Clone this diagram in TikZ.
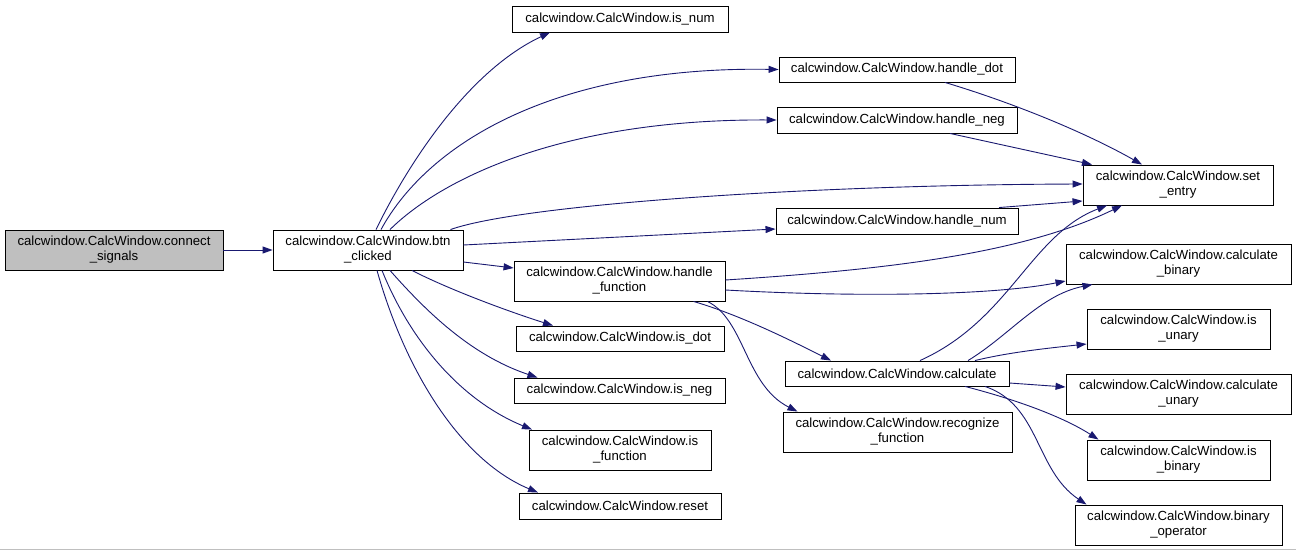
\documentclass[tikz,border=0pt]{standalone}
\usepackage{fontspec}
\setmainfont{Liberation Sans}
\usetikzlibrary{arrows.meta}
\definecolor{edgecol}{HTML}{191970}
\definecolor{graybox}{HTML}{BFBFBF}
\tikzset{
  fbox/.style={draw=black, line width=0.9pt, fill=white, inner sep=0pt, align=center,
    font=\fontsize{13.2}{15}\selectfont},
  edge/.style={draw=edgecol, line width=0.9pt, -{Triangle[length=10pt,width=7pt]}, edgecol}
}
\begin{document}
\begin{tikzpicture}[x=1pt,y=-1pt]
\useasboundingbox[fill=white] (0,0) rectangle (1296,551);
\draw[gray!50, line width=1pt] (0,549.5) -- (1296,549.5);
% nodes
\node[fbox, fill=graybox, minimum width=218pt, minimum height=40pt] (cs) at (114,250) {calcwindow.CalcWindow.connect\\\_signals};
\node[fbox, minimum width=190pt, minimum height=40pt] (btn) at (368,250) {calcwindow.CalcWindow.btn\\\_clicked};
\node[fbox, minimum width=216pt, minimum height=26pt] (isnum) at (620,19) {calcwindow.CalcWindow.is\_num};
\node[fbox, minimum width=236pt, minimum height=25pt] (hdot) at (897,69.5) {calcwindow.CalcWindow.handle\_dot};
\node[fbox, minimum width=240pt, minimum height=26pt] (hneg) at (897,120) {calcwindow.CalcWindow.handle\_neg};
\node[fbox, minimum width=190pt, minimum height=40pt] (setentry) at (1178,185) {calcwindow.CalcWindow.set\\\_entry};
\node[fbox, minimum width=242pt, minimum height=26pt] (hnum) at (897,221) {calcwindow.CalcWindow.handle\_num};
\node[fbox, minimum width=211pt, minimum height=40pt] (hfunc) at (619.5,281) {calcwindow.CalcWindow.handle\\\_function};
\node[fbox, minimum width=225pt, minimum height=40pt] (cbin) at (1178.5,264) {calcwindow.CalcWindow.calculate\\\_binary};
\node[fbox, minimum width=208pt, minimum height=25pt] (isdot) at (620,338.5) {calcwindow.CalcWindow.is\_dot};
\node[fbox, minimum width=224pt, minimum height=25pt] (calc) at (897,373.5) {calcwindow.CalcWindow.calculate};
\node[fbox, minimum width=183pt, minimum height=40pt] (isunary) at (1178.5,329) {calcwindow.CalcWindow.is\\\_unary};
\node[fbox, minimum width=225pt, minimum height=40pt] (cun) at (1178.5,394) {calcwindow.CalcWindow.calculate\\\_unary};
\node[fbox, minimum width=211pt, minimum height=25pt] (isneg) at (619.5,390.5) {calcwindow.CalcWindow.is\_neg};
\node[fbox, minimum width=229pt, minimum height=40pt] (recog) at (897.5,432) {calcwindow.CalcWindow.recognize\\\_function};
\node[fbox, minimum width=182pt, minimum height=40pt] (isfunc) at (620,450) {calcwindow.CalcWindow.is\\\_function};
\node[fbox, minimum width=183pt, minimum height=40pt] (isbin) at (1178.5,460) {calcwindow.CalcWindow.is\\\_binary};
\node[fbox, minimum width=202pt, minimum height=26pt] (reset) at (620,506) {calcwindow.CalcWindow.reset};
\node[fbox, minimum width=207pt, minimum height=40pt] (binop) at (1178.5,525) {calcwindow.CalcWindow.binary\\\_operator};
% edges
\draw[edge] (cs.east) -- (btn.west);
\draw[edge] ([xshift=8pt]btn.north) .. controls (410,160) and (470,70) .. ([xshift=-70pt]isnum.south);
\draw[edge] ([xshift=13pt]btn.north) .. controls (430,140) and (560,66) .. (hdot.west);
\draw[edge] ([xshift=22pt]btn.north) .. controls (440,180) and (560,119) .. (hneg.west);
\draw[edge] ([xshift=-13pt]btn.north east) .. controls (520,205) and (800,185) .. ([yshift=1pt]setentry.west);
\draw[edge] ([yshift=5pt]btn.east) -- ([yshift=-8pt]hnum.west);
\draw[edge] ([yshift=-12pt]btn.east) -- ([yshift=13pt]hfunc.west);
\draw[edge] ([xshift=44pt]btn.south) .. controls (450,290) and (510,312) .. ([xshift=-67pt]isdot.north);
\draw[edge] ([xshift=22pt]btn.south) .. controls (425,310) and (470,355) .. ([xshift=-82pt]isneg.north);
\draw[edge] ([xshift=14pt]btn.south) .. controls (410,340) and (460,400) .. ([xshift=-88pt]isfunc.north);
\draw[edge] ([xshift=9pt]btn.south) .. controls (405,370) and (460,460) .. ([xshift=-82pt]reset.north);
\draw[edge] ([xshift=48pt]hdot.south) .. controls (1020,105) and (1090,135) .. ([xshift=-36pt]setentry.north);
\draw[edge] ([xshift=53pt]hneg.south) -- ([xshift=-86pt]setentry.north);
\draw[edge] ([xshift=102pt]hnum.north) -- ([yshift=-16pt]setentry.west);
\draw[edge] ([yshift=1pt]hfunc.east) .. controls (880,270) and (1020,255) .. ([xshift=-56pt]setentry.south);
\draw[edge] ([yshift=-9pt]hfunc.east) .. controls (850,297) and (990,296) .. ([yshift=-17pt]cbin.west);
\draw[edge] ([xshift=74pt]hfunc.south) .. controls (740,315) and (790,340) .. ([xshift=-66pt]calc.north);
\draw[edge] ([xshift=88pt]hfunc.south) .. controls (745,320) and (745,385) .. ([xshift=-100pt]recog.north);
\draw[edge] ([xshift=23pt]calc.north) .. controls (1010,320) and (1030,235) .. ([xshift=-71pt]setentry.south);
\draw[edge] ([xshift=71pt]calc.north) .. controls (1010,335) and (1040,295) .. ([xshift=-86pt]cbin.south);
\draw[edge] ([xshift=78pt]calc.north) .. controls (1010,352) and (1050,348) .. ([yshift=-15pt]isunary.west);
\draw[edge] ([yshift=-9.5pt]calc.east) -- ([yshift=7pt]cun.west);
\draw[edge] ([xshift=68pt]calc.south) .. controls (1010,398) and (1060,415) .. ([xshift=-80pt]isbin.north);
\draw[edge] ([xshift=88pt]calc.south) .. controls (1040,405) and (1035,470) .. ([xshift=-92pt]binop.north);
\end{tikzpicture}
\end{document}
